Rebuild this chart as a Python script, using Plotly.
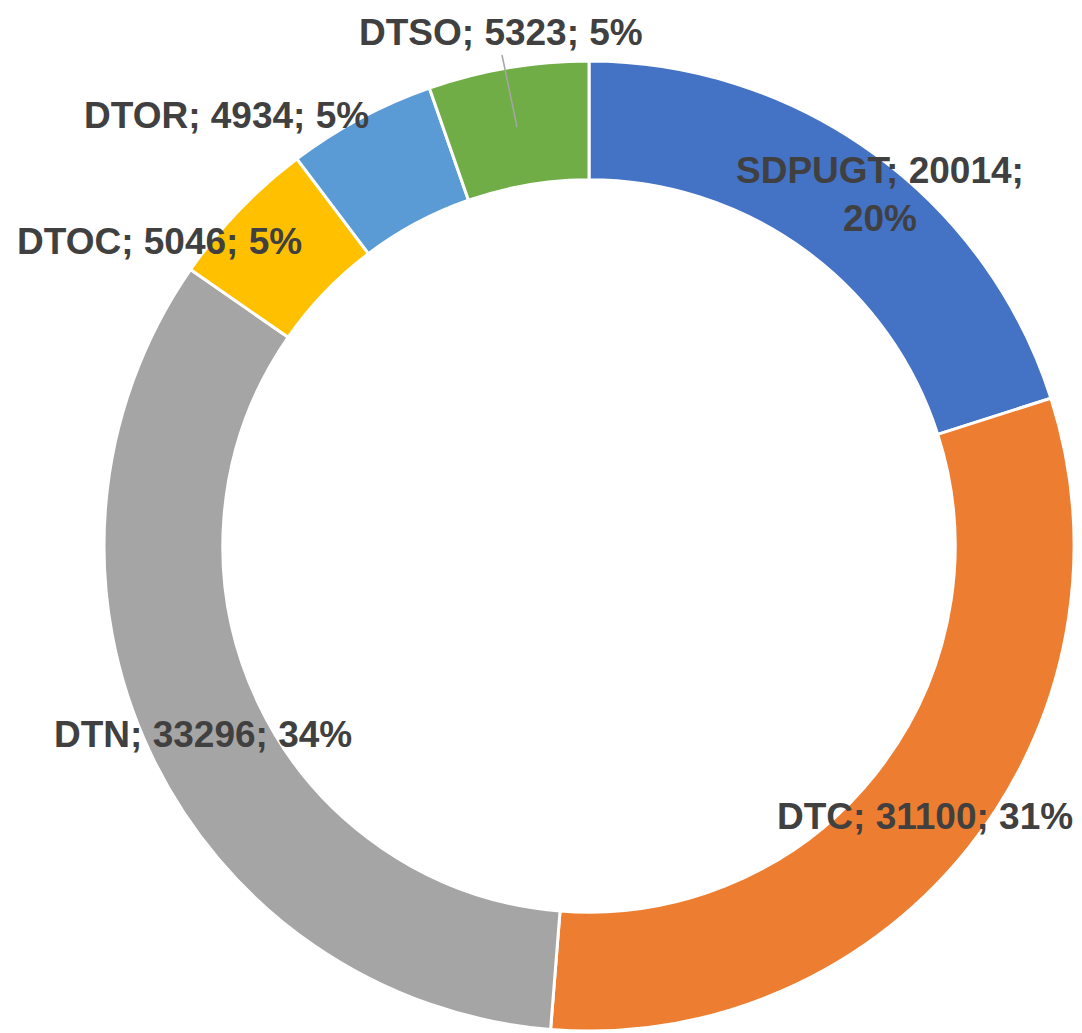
import plotly.graph_objects as go

categories = ["SDPUGT", "DTC", "DTN", "DTOC", "DTOR", "DTSO"]
values = [20014, 31100, 33296, 5046, 4934, 5323]
percent_labels = ["20%", "31%", "34%", "5%", "5%", "5%"]
colors = ["#4472C4", "#ED7D31", "#A5A5A5", "#FFC000", "#5B9BD5", "#70AD47"]

W, H = 1082, 1033
cx, cy, R = 589, 546, 485

fig = go.Figure(go.Pie(
    labels=categories,
    values=values,
    sort=False,
    direction="clockwise",
    rotation=0,
    hole=0.755,
    marker=dict(colors=colors, line=dict(color="white", width=3)),
    textinfo="none",
    showlegend=False,
    domain=dict(x=[(cx - R) / W, (cx + R) / W],
                y=[(H - cy - R) / H, (H - cy + R) / H]),
))

# label placement (pixel centers) - layout only
label_pos = {
    "SDPUGT": (880, 195),
    "DTC": (925, 816),
    "DTN": (203, 734),
    "DTOC": (159, 242),
    "DTOR": (226, 116),
    "DTSO": (501, 33),
}

for cat, val, pct in zip(categories, values, percent_labels):
    px, py = label_pos[cat]
    if cat == "SDPUGT":
        txt = f"<b>{cat}; {val};<br>{pct}</b>"
    else:
        txt = f"<b>{cat}; {val}; {pct}</b>"
    fig.add_annotation(
        x=px / W, y=1 - py / H, xref="paper", yref="paper",
        text=txt, showarrow=False, xanchor="center", yanchor="middle",
        font=dict(family="Liberation Sans, Arial", size=37, color="#404040"),
        align="center",
    )

# leader line for DTSO
fig.add_shape(type="line", xref="paper", yref="paper",
              x0=502 / W, y0=1 - 55 / H, x1=517 / W, y1=1 - 127 / H,
              line=dict(color="#A5A5A5", width=1.5))

fig.update_layout(
    width=W, height=H,
    margin=dict(l=0, r=0, t=0, b=0),
    paper_bgcolor="white", plot_bgcolor="white",
)

fig.write_html("out.html", config={"displayModeBar": False},
               post_script="document.body.style.margin='0';")
